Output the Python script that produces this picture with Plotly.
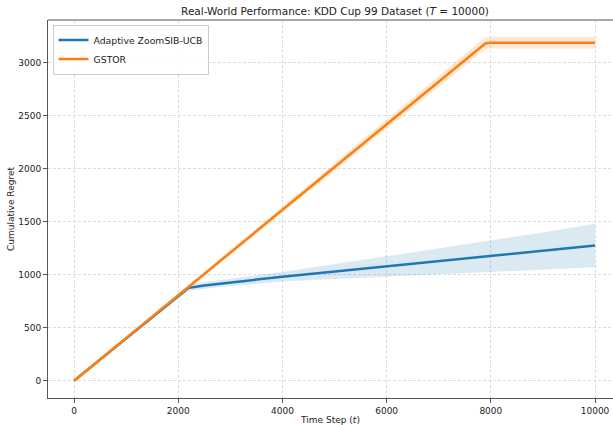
import plotly.graph_objects as go

# ---- data ----
t_blue = [0, 500, 1000, 1500, 2000, 2200, 2500, 3000, 3500, 4000, 5000, 6000, 7000, 8000, 8500, 9000, 10000]
blue_mean = [0, 200, 400, 600, 800, 877, 900, 930, 955, 981, 1030, 1077, 1125, 1173, 1200, 1225, 1277]
blue_half = [0, 5, 10, 15, 20, 30, 32, 36, 40, 45, 70, 96, 120, 146, 160, 175, 205]

t_orange = [0, 1000, 2000, 3000, 4000, 5000, 6000, 7000, 7800, 7900, 8000, 9000, 10000]
orange_mean = [0, 404, 808, 1212, 1616, 2020, 2424, 2828, 3150, 3185, 3190, 3190, 3190]
orange_half = [0, 8, 16, 24, 30, 37, 44, 50, 55, 55, 55, 55, 55]

x_ticks = [0, 2000, 4000, 6000, 8000, 10000]
x_tick_labels = ["0", "2000", "4000", "6000", "8000", "10000"]
y_ticks = [0, 500, 1000, 1500, 2000, 2500, 3000]
y_tick_labels = ["0", "500", "1000", "1500", "2000", "2500", "3000"]

BLUE = "#1f77b4"
ORANGE = "#ff7f0e"

fig = go.Figure()

def add_band(t, mean, half, color_fill):
    upper = [m + h for m, h in zip(mean, half)]
    lower = [m - h for m, h in zip(mean, half)]
    fig.add_trace(go.Scatter(x=t, y=upper, mode="lines", line=dict(width=0),
                             showlegend=False, hoverinfo="skip"))
    fig.add_trace(go.Scatter(x=t, y=lower, mode="lines", line=dict(width=0),
                             fill="tonexty", fillcolor=color_fill,
                             showlegend=False, hoverinfo="skip"))

add_band(t_blue, blue_mean, blue_half, "rgba(31,119,180,0.16)")
add_band(t_orange, orange_mean, orange_half, "rgba(255,127,14,0.18)")

fig.add_trace(go.Scatter(x=t_blue, y=blue_mean, mode="lines", name="Adaptive ZoomSIB-UCB",
                         line=dict(color=BLUE, width=2.5)))
fig.add_trace(go.Scatter(x=t_orange, y=orange_mean, mode="lines", name="GSTOR",
                         line=dict(color=ORANGE, width=2.5)))

axis_common = dict(
    showgrid=True, gridcolor="#dcdcdc", griddash="3px,2px", gridwidth=1,
    zeroline=False, showline=True, linecolor="#555555", linewidth=1,
    ticks="outside", ticklen=4, tickcolor="#555555", automargin=False,
    tickfont=dict(family="DejaVu Sans", size=9, color="#222222"),
)

fig.update_layout(
    width=613, height=425,
    margin=dict(l=48, r=0, t=20, b=27),
    paper_bgcolor="white", plot_bgcolor="white",
    font=dict(family="DejaVu Sans", color="#222222"),
    title=dict(text="Real-World Performance: KDD Cup 99 Dataset (<i>T</i> = 10000)",
               x=0.508, xref="paper", xanchor="center", y=0.982, yanchor="top",
               font=dict(size=10.5, family="DejaVu Sans", color="#222222")),
    xaxis=dict(range=[-500, 10345], tickvals=x_ticks, ticktext=x_tick_labels,
               title=dict(text="Time Step (<i>t</i>)", font=dict(size=9), standoff=2),
               **axis_common),
    yaxis=dict(range=[-162, 3404], tickvals=y_ticks, ticktext=y_tick_labels,
               title=dict(text="Cumulative Regret", font=dict(size=9), standoff=2),
               **axis_common),
    legend=dict(x=0.008, y=0.988, xanchor="left", yanchor="top", traceorder="normal",
                bgcolor="rgba(255,255,255,0.85)", bordercolor="#cccccc", borderwidth=1,
                font=dict(size=9.3, family="DejaVu Sans"), tracegroupgap=0, itemwidth=30),
    showlegend=True,
)

# top spine
fig.add_shape(type="line", xref="paper", yref="paper", x0=0, x1=1, y0=1, y1=1,
              line=dict(color="#555555", width=1))

fig.write_html("out.html", config={"displayModeBar": False},
               post_script="document.body.style.margin='0';")
